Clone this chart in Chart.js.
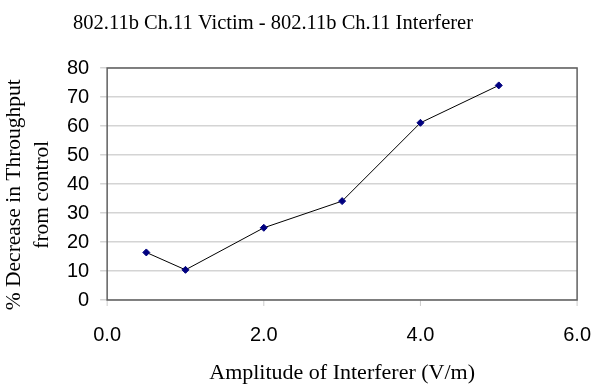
<!DOCTYPE html>
<html>
<head>
<meta charset="utf-8">
<script src="https://cdn.jsdelivr.net/npm/chart.js@4"></script>
<style>
  html, body { margin: 0; padding: 0; background: #fff; }
  #wrap { width: 600px; height: 384px; }
</style>
</head>
<body>
<div id="wrap"><canvas id="chart"></canvas></div>
<script>
// data
const chartTitle = '802.11b Ch.11 Victim - 802.11b Ch.11 Interferer';
const amplitude = [0.5, 1.0, 2.0, 3.0, 4.0, 5.0];     // V/m
const decrease = [16.4, 10.4, 24.9, 34.1, 61.1, 74.0]; // % decrease
const xTitle = 'Amplitude of Interferer (V/m)';
// trailing spaces push the rotated title a little lower, like the original
const yTitle = ['% Decrease in Throughput    ', 'from control    '];

const points = amplitude.map((x, i) => ({ x: x, y: decrease[i] }));

// title is centred a bit left of the canvas in the original, so draw it by hand
const titlePlugin = {
    id: 'manualTitle',
    afterDraw(chart) {
        const ctx = chart.ctx;
        ctx.save();
        ctx.font = '20.5px "Liberation Serif"';
        ctx.fillStyle = '#000';
        ctx.textAlign = 'center';
        ctx.textBaseline = 'middle';
        ctx.fillText(chartTitle, 273, 24);
        ctx.restore();
    }
};

// box round the plot area + short tick marks under the x axis
const framePlugin = {
    id: 'frame',
    afterDatasetsDraw(chart) {
        const a = chart.chartArea;
        const ctx = chart.ctx;
        const xs = chart.scales.x;
        ctx.save();
        ctx.strokeStyle = '#ccc';
        ctx.lineWidth = 1;
        xs.ticks.forEach(t => {
            const px = xs.getPixelForValue(t.value);
            ctx.beginPath();
            ctx.moveTo(px, a.bottom);
            ctx.lineTo(px, a.bottom + 6);
            ctx.stroke();
        });
        ctx.strokeStyle = '#606060';
        ctx.lineWidth = 1.5;
        ctx.strokeRect(a.left, a.top, a.right - a.left, a.bottom - a.top);
        ctx.restore();
    }
};

const ctx = document.getElementById('chart').getContext('2d');
new Chart(ctx, {
    type: 'scatter',
    data: {
        datasets: [{
            data: points,
            showLine: true,
            borderColor: '#000',
            borderWidth: 1,
            pointStyle: 'rectRot',
            pointRadius: 3.5,
            pointBackgroundColor: '#000080',
            pointBorderColor: '#000080',
            pointBorderWidth: 1
        }]
    },
    options: {
        responsive: true,
        maintainAspectRatio: false,
        animation: false,
        layout: { padding: { top: 68, right: 0, left: 0, bottom: 0 } },
        plugins: {
            legend: { display: false },
            tooltip: { enabled: false }
        },
        scales: {
            x: {
                type: 'linear',
                min: 0,
                max: 6,
                ticks: {
                    stepSize: 2,
                    padding: 9,
                    color: '#000',
                    font: { family: '"Liberation Sans"', size: 20 },
                    callback: v => v.toFixed(1)
                },
                // tick marks are drawn by the frame plugin, keep the space here
                grid: { drawOnChartArea: false, drawTicks: true, tickLength: 14, tickColor: 'rgba(0,0,0,0)' },
                border: { display: false },
                title: {
                    display: true,
                    text: xTitle,
                    color: '#000',
                    font: { family: '"Liberation Serif"', size: 22, lineHeight: 1.0 },
                    padding: { top: 6, bottom: 0 }
                }
            },
            y: {
                min: 0,
                max: 80,
                ticks: {
                    stepSize: 10,
                    padding: 11,
                    color: '#000',
                    font: { family: '"Liberation Sans"', size: 20 }
                },
                grid: { color: '#d4d4d4', lineWidth: 1.5, tickLength: 7 },
                border: { display: false },
                title: {
                    display: true,
                    text: yTitle,
                    color: '#000',
                    font: { family: '"Liberation Serif"', size: 21.5, lineHeight: 1.3 },
                    padding: { top: 0, bottom: 0 }
                }
            }
        }
    },
    plugins: [titlePlugin, framePlugin]
});
</script>
</body>
</html>
